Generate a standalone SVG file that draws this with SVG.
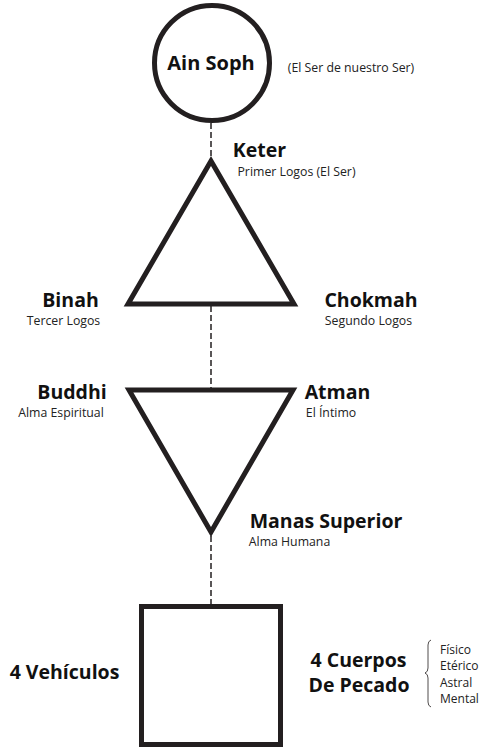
<svg xmlns="http://www.w3.org/2000/svg" width="481" height="748" viewBox="0 0 481 748">
<style>
.shape{fill:#fff;stroke:#231f20;stroke-width:5;stroke-linejoin:miter;stroke-miterlimit:10}
.dash{fill:none;stroke:#231f20;stroke-width:1.5;stroke-dasharray:6,3}
.lbl{font-family:"Open Sans","DejaVu Sans",sans-serif;fill:#111}
.h{font-weight:bold;font-size:19.5px}
.s{font-weight:normal;font-size:12.3px;fill:#222}
.brace{fill:none;stroke:#231f20;stroke-width:0.8}
</style>
<rect width="481" height="748" fill="#fff"/>
<g id="connectors">
<line class="dash" x1="211" y1="123" x2="211" y2="160"/>
<line class="dash" x1="211" y1="306" x2="211" y2="389"/>
<line class="dash" x1="211" y1="536" x2="211" y2="605"/>
</g>
<g id="ain-soph">
<circle class="shape" cx="212" cy="63" r="57.5"/>
<text class="lbl h" x="211" y="70" text-anchor="middle" style="font-size:20px">Ain Soph</text>
<text class="lbl s" x="351" y="72" text-anchor="middle">(El Ser de nuestro Ser)</text>
</g>
<g id="triangulo-superior">
<polygon class="shape" points="211,161 128,304 294,304"/>
</g>
<g id="keter">
<text class="lbl h" x="259.5" y="157" text-anchor="middle">Keter</text>
<text class="lbl s" x="296.5" y="176" text-anchor="middle">Primer Logos (El Ser)</text>
</g>
<g id="binah">
<text class="lbl h" x="70.5" y="307" text-anchor="middle">Binah</text>
<text class="lbl s" x="63.5" y="325" text-anchor="middle">Tercer Logos</text>
</g>
<g id="chokmah">
<text class="lbl h" x="371" y="307" text-anchor="middle">Chokmah</text>
<text class="lbl s" x="368.5" y="325" text-anchor="middle">Segundo Logos</text>
</g>
<g id="triangulo-inferior">
<polygon class="shape" points="129,390 293,390 211,532"/>
</g>
<g id="buddhi">
<text class="lbl h" x="72" y="399" text-anchor="middle">Buddhi</text>
<text class="lbl s" x="61" y="416.5" text-anchor="middle">Alma Espiritual</text>
</g>
<g id="atman">
<text class="lbl h" x="337.5" y="399" text-anchor="middle">Atman</text>
<text class="lbl s" x="331" y="417" text-anchor="middle">El Íntimo</text>
</g>
<g id="manas">
<text class="lbl h" x="326" y="528" text-anchor="middle">Manas Superior</text>
<text class="lbl s" x="289.5" y="545.5" text-anchor="middle">Alma Humana</text>
</g>
<g id="cuadrado">
<rect class="shape" x="141.5" y="606.5" width="139" height="138"/>
</g>
<g id="vehiculos">
<text class="lbl h" x="64.5" y="679" text-anchor="middle">4 Vehículos</text>
</g>
<g id="cuerpos">
<text class="lbl h" x="358.5" y="667" text-anchor="middle">4 Cuerpos</text>
<text class="lbl h" x="359" y="692" text-anchor="middle">De Pecado</text>
<path class="brace" d="M431,640 Q428,641 428,645 L428,668 Q428,672 425,673 Q428,674 428,678 L428,702 Q428,706 431,707"/>
<text class="lbl" style="font-size:12px;fill:#222"><tspan x="440" y="654">Físico</tspan><tspan x="440" y="670">Etérico</tspan><tspan x="440" y="687">Astral</tspan><tspan x="440" y="703">Mental</tspan></text>
</g>
</svg>
